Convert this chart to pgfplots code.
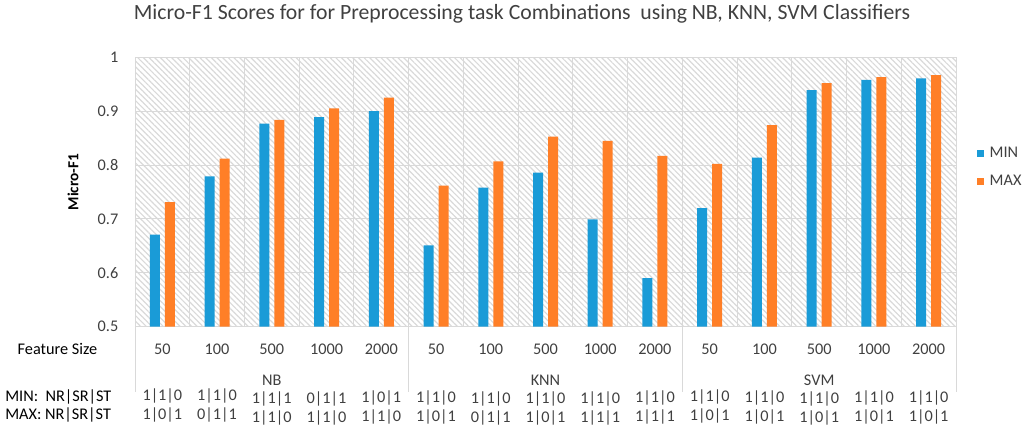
\documentclass[border=0pt]{standalone}
\usepackage{fontspec}
\setmainfont{Carlito}
\usepackage{pgfplots}
\pgfplotsset{compat=1.18}
\usetikzlibrary{patterns.meta}
\definecolor{barblue}{HTML}{1A9BD7}
\definecolor{barorange}{HTML}{FF7F27}
\definecolor{gridgray}{HTML}{D9D9D9}
\definecolor{txt}{HTML}{404040}
\newcommand{\tf}{\fontsize{12.2}{13.5}\selectfont}
\newcommand{\cf}{\fontsize{12.2}{14.2}\selectfont}
\begin{document}
\begin{tikzpicture}
\useasboundingbox (0,0) rectangle (768pt,321.75pt);
\begin{axis}[
  at={(101.25pt,76.725pt)}, anchor=south west,
  scale only axis, width=615.75pt, height=202.05pt,
  xmin=-0.5, xmax=14.5, ymin=0.5, ymax=1,
  clip mode=individual,
  ybar=3.75pt, bar width=7.5pt,
  xtick={0,...,14},
  xticklabels={50,100,500,1000,2000,50,100,500,1000,2000,50,100,500,1000,2000},
  minor xtick={0.5,1.5,2.5,3.5,4.5,5.5,6.5,7.5,8.5,9.5,10.5,11.5,12.5,13.5},
  ytick={0.5,0.6,0.7,0.8,0.9,1},
  yticklabels={0.5,0.6,0.7,0.8,0.9,1},
  xminorgrids, ymajorgrids,
  major grid style={gridgray, line width=0.75pt},
  minor grid style={gridgray, line width=0.75pt},
  major tick length=0pt, minor tick length=0pt,
  axis line style={gridgray, line width=0.75pt},
  axis background/.style={pattern={Lines[angle=-45,distance=3pt,line width=0.9pt]}, pattern color=black!15},
  tick label style={font=\tf, text=txt},
  xticklabel style={yshift=-9.5pt},
  yticklabel style={xshift=-9pt},
  ylabel={\bfseries Micro-F1},
  ylabel style={at={(axis description cs:-0.0755,0.537)}, anchor=center, font=\fontsize{11.5}{13}\selectfont, text=black},
  legend style={at={(axis description cs:1.02,0.591)}, anchor=west, draw=none, fill=none, font=\tf, text=txt, row sep=8pt,
     /tikz/every odd column/.append style={column sep=2.5pt}},
  legend cell align=left,
  legend image code/.code={\fill[#1] (0pt,-2.6pt) rectangle (5.25pt,2.6pt);},
]
\addplot[fill=barblue, draw=none] coordinates {
 (0,0.671) (1,0.779) (2,0.877) (3,0.889) (4,0.900)
 (5,0.651) (6,0.758) (7,0.786) (8,0.699) (9,0.590)
 (10,0.720) (11,0.814) (12,0.939) (13,0.958) (14,0.961)};
\addplot[fill=barorange, draw=none] coordinates {
 (0,0.731) (1,0.812) (2,0.884) (3,0.905) (4,0.925)
 (5,0.762) (6,0.807) (7,0.853) (8,0.845) (9,0.817)
 (10,0.802) (11,0.874) (12,0.952) (13,0.963) (14,0.967)};
\legend{MIN,MAX}
% title
\node[font=\fontsize{16.3}{18}\selectfont, text=txt, anchor=center] at (axis description cs:0.4714,1.1607)
  {Micro-F1 Scores for for Preprocessing task Combinations\ \ using NB, KNN, SVM Classifiers};
% separators
\draw[gridgray, line width=0.75pt] (axis cs:-0.5,0.5) -- (axis cs:-0.5,0.3788);
\draw[gridgray, line width=0.75pt] (axis cs:4.5,0.5) -- (axis cs:4.5,0.3788);
\draw[gridgray, line width=0.75pt] (axis cs:9.5,0.5) -- (axis cs:9.5,0.3788);
\draw[gridgray, line width=0.75pt] (axis cs:14.5,0.5) -- (axis cs:14.5,0.3788);
% row labels
\node[font=\tf, text=black] at (axis cs:-1.916,0.4586) {Feature Size};
\node[font=\tf, text=black, anchor=west, inner sep=0pt] at (axis cs:-2.875,0.3695) {MIN:~~NR|SR|ST};
\node[font=\tf, text=black, anchor=west, inner sep=0pt] at (axis cs:-2.875,0.3361) {MAX: NR|SR|ST};
% group labels
\node[font=\tf, text=txt] at (axis cs:2,0.4011) {NB};
\node[font=\tf, text=txt] at (axis cs:7,0.4011) {KNN};
\node[font=\tf, text=txt] at (axis cs:12,0.4011) {SVM};
% combos
\node[font=\cf, text=txt, align=center] at (axis cs:0,0.353) {1|1|0\\1|0|1};
\node[font=\cf, text=txt, align=center] at (axis cs:1,0.353) {1|1|0\\0|1|1};
\node[font=\cf, text=txt, align=center] at (axis cs:2,0.349) {1|1|1\\1|1|0};
\node[font=\cf, text=txt, align=center] at (axis cs:3,0.349) {0|1|1\\1|1|0};
\node[font=\cf, text=txt, align=center] at (axis cs:4,0.350) {1|0|1\\1|1|0};
\node[font=\cf, text=txt, align=center] at (axis cs:5,0.350) {1|1|0\\1|0|1};
\node[font=\cf, text=txt, align=center] at (axis cs:6,0.348) {1|1|0\\0|1|1};
\node[font=\cf, text=txt, align=center] at (axis cs:7,0.348) {1|1|0\\1|0|1};
\node[font=\cf, text=txt, align=center] at (axis cs:8,0.348) {1|1|0\\1|1|1};
\node[font=\cf, text=txt, align=center] at (axis cs:9,0.350) {1|1|0\\1|1|1};
\node[font=\cf, text=txt, align=center] at (axis cs:10,0.352) {1|1|0\\1|0|1};
\node[font=\cf, text=txt, align=center] at (axis cs:11,0.350) {1|1|0\\1|0|1};
\node[font=\cf, text=txt, align=center] at (axis cs:12,0.348) {1|1|0\\1|0|1};
\node[font=\cf, text=txt, align=center] at (axis cs:13,0.350) {1|1|0\\1|0|1};
\node[font=\cf, text=txt, align=center] at (axis cs:14,0.350) {1|1|0\\1|0|1};
\end{axis}
\end{tikzpicture}
\end{document}
